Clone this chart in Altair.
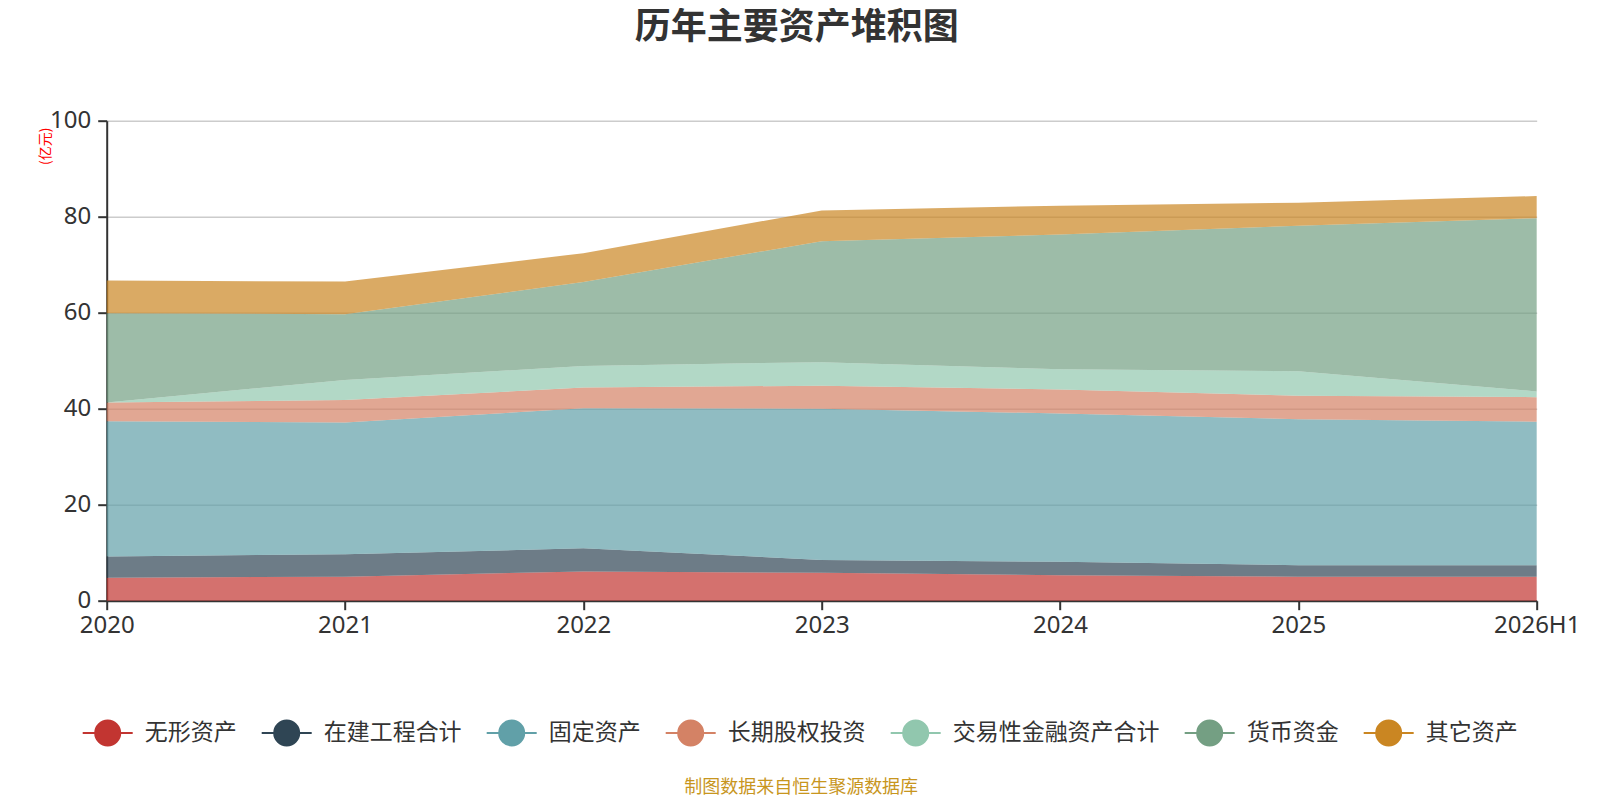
import altair as alt
import pandas as pd

years = ["2020", "2021", "2022", "2023", "2024", "2025", "2026H1"]
series = ["无形资产", "在建工程合计", "固定资产", "长期股权投资", "交易性金融资产合计", "货币资金", "其它资产"]
colors = ["#c23531", "#2f4554", "#61a0a8", "#d48265", "#91c7ae", "#749f83", "#ca8622"]

wuxing = [4.8, 5.0, 6.1, 5.8, 5.3, 5.0, 5.0]
zaijian = [4.4, 4.7, 4.8, 2.7, 2.8, 2.4, 2.4]
guding = [28.2, 27.4, 29.2, 31.5, 30.9, 30.4, 29.9]
changqi = [3.9, 4.7, 4.3, 4.8, 5.0, 4.9, 5.1]
jiaoyi = [0.0, 4.2, 4.5, 4.9, 4.2, 5.1, 1.2]
huobi = [18.6, 13.7, 17.5, 25.2, 28.1, 30.3, 36.1]
qita = [6.8, 6.8, 6.0, 6.4, 6.0, 4.8, 4.6]

values = [wuxing, zaijian, guding, changqi, jiaoyi, huobi, qita]
rows = []
for si, (name, vals) in enumerate(zip(series, values)):
    for y, v in zip(years, vals):
        rows.append({"year": y, "series": name, "value": v, "idx": si})
df = pd.DataFrame(rows)

FONT = "Noto Sans CJK SC"
NUMFONT = "Noto Sans"
legend_symbol = "M-1,0L1,0M-0.5,0A0.5,0.5,0,1,1,0.5,0A0.5,0.5,0,1,1,-0.5,0Z"

color_scale = alt.Scale(domain=series, range=colors)

chart = alt.Chart(df).mark_area(fillOpacity=0.7, strokeOpacity=0, strokeWidth=0).encode(
    x=alt.X("year:O", sort=years,
            scale=alt.Scale(type="point", padding=0),
            axis=alt.Axis(title="制图数据来自恒生聚源数据库", labelAngle=0,
                          labelFontSize=24, labelColor="#333333", labelFont=NUMFONT,
                          labelPadding=4,
                          domainColor="#333333", domainWidth=2, tickColor="#333333",
                          tickSize=9, tickWidth=2, grid=False,
                          titleColor="#c8961e", titleFontSize=18, titleFont=FONT,
                          titleFontWeight="normal", titleX=694, titleY=187,
                          titleBaseline="middle", titleAnchor="start", titleAlign="center")),
    y=alt.Y("value:Q", stack="zero",
            scale=alt.Scale(domain=[0, 100], nice=False),
            axis=alt.Axis(title="(亿元)", values=[0, 20, 40, 60, 80, 100],
                          labelFontSize=24, labelColor="#333333", labelFont=NUMFONT,
                          labelPadding=7,
                          domainColor="#333333", domainWidth=2, tickColor="#333333",
                          tickSize=9, tickWidth=2,
                          grid=True, gridColor="#cccccc", gridWidth=1.5,
                          titleColor="#ff0000", titleFontSize=14, titleFont=FONT,
                          titleFontWeight="normal", titleX=-61, titleY=25,
                          titleBaseline="middle", titleAlign="center", titleAngle=-90)),
    color=alt.Color("series:N", scale=color_scale, sort=series,
                    legend=alt.Legend(title=None, orient="none", direction="horizontal",
                                      legendX=-25, legendY=586, columns=7,
                                      symbolType=legend_symbol, symbolSize=2500,
                                      symbolStrokeWidth=2, symbolOpacity=1,
                                      labelFontSize=23, labelFont=FONT, labelColor="#333333",
                                      labelOffset=11, columnPadding=21, labelLimit=400)),
    stroke=alt.Stroke("series:N", scale=color_scale, sort=series, legend=None),
    order=alt.Order("idx:Q", sort="ascending"),
).properties(
    width=1430, height=480,
    title=alt.TitleParams("历年主要资产堆积图", fontSize=36, font=FONT, fontWeight="bold",
                          color="#333333", anchor="middle", dx=-25, offset=62),
    padding={"left": 98.7, "top": 112.7, "right": 50, "bottom": 199},
    autosize=alt.AutoSizeParams(type="none"),
).configure_view(stroke=None)

chart.save("out.html", embed_options={"renderer": "svg", "actions": False})
